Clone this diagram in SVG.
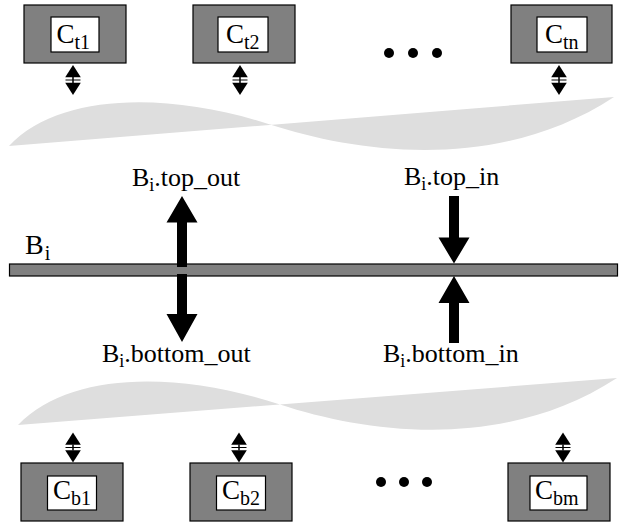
<svg xmlns="http://www.w3.org/2000/svg" width="620" height="522" viewBox="0 0 620 522">
<style>
.outer{fill:#808080;stroke:#000;stroke-width:1.2}
.inner{fill:#fff;stroke:#000;stroke-width:1.2}
.wave{fill:#dedede}
.lbl{font-family:"Liberation Serif","Times New Roman",serif;fill:#000}
.c{font-size:27px}
.b{font-size:26px}
.bb{font-size:28px}
.sub{font-size:20px}
.bsub{font-size:18px}
.blk{fill:#000}
</style>
<defs>
<g id="dbl">
<polygon points="0,-15 7.8,-2.7 -7.8,-2.7" fill="#000"/>
<polygon points="0,15 7.8,2.7 -7.8,2.7" fill="#000"/>
<line x1="-7.5" y1="0" x2="7.5" y2="0" stroke="#000" stroke-width="1"/>
<line x1="0" y1="-3" x2="0" y2="3" stroke="#000" stroke-width="1.5"/>
</g>
</defs>
<rect width="620" height="522" fill="#fff"/>

<g id="waves">
<path class="wave" d="M9,146 C60,92 170,92 270,124.5 C360,153.75 500,172 614,97 Z"/>
<path class="wave" d="M18,425 C70,371 178,371 280,404.4 C370,433.9 505,451 617,378 Z"/>
</g>

<g id="bus">
<rect x="9.5" y="264" width="608" height="12" fill="#808080" stroke="#000" stroke-width="1.2"/>
<text class="lbl bb" x="25" y="254">B<tspan class="sub" dx="1" dy="6">i</tspan></text>
</g>

<g id="ct1">
<rect class="outer" x="24" y="5" width="102" height="58"/>
<rect class="inner" x="51" y="17" width="48" height="35"/>
<text class="lbl c" x="56.5" y="43">C<tspan class="sub" dy="6">t1</tspan></text>
</g>
<g id="ct2">
<rect class="outer" x="193" y="5" width="102" height="58"/>
<rect class="inner" x="218" y="17" width="50" height="35"/>
<text class="lbl c" x="226" y="43">C<tspan class="sub" dy="6">t2</tspan></text>
</g>
<g id="ctn">
<rect class="outer" x="511" y="5" width="101" height="58"/>
<rect class="inner" x="537" y="17" width="50" height="35"/>
<text class="lbl c" x="545" y="43">C<tspan class="sub" dy="6">tn</tspan></text>
</g>
<g id="dots-top">
<circle class="blk" cx="389" cy="53" r="5"/>
<circle class="blk" cx="413" cy="53" r="5"/>
<circle class="blk" cx="437" cy="53" r="5"/>
</g>

<g id="cb1">
<rect class="outer" x="21" y="463" width="102" height="58"/>
<rect class="inner" x="47.5" y="476" width="49" height="34"/>
<text class="lbl c" x="53" y="498.5">C<tspan class="sub" dy="6">b1</tspan></text>
</g>
<g id="cb2">
<rect class="outer" x="190" y="463" width="102" height="58"/>
<rect class="inner" x="216.5" y="476" width="49" height="34"/>
<text class="lbl c" x="222" y="498.5">C<tspan class="sub" dy="6">b2</tspan></text>
</g>
<g id="cbm">
<rect class="outer" x="508" y="463" width="102" height="58"/>
<rect class="inner" x="530" y="476" width="57" height="34"/>
<text class="lbl c" x="535" y="498.5">C<tspan class="sub" dy="6">bm</tspan></text>
</g>
<g id="dots-bottom">
<circle class="blk" cx="381" cy="482" r="5"/>
<circle class="blk" cx="404" cy="482" r="5"/>
<circle class="blk" cx="427" cy="482" r="5"/>
</g>

<g id="connectors">
<use href="#dbl" x="73" y="80"/>
<use href="#dbl" x="240" y="80"/>
<use href="#dbl" x="559" y="80"/>
<use href="#dbl" x="73" y="447.5"/>
<use href="#dbl" x="239" y="447.5"/>
<use href="#dbl" x="563" y="447.5"/>
<polygon class="blk" points="177,267 187,267 187,222.5 197.5,222.5 182,196 166.5,222.5 177,222.5"/>
<polygon class="blk" points="177,274 187,274 187,314 197.5,314 182,342 166.5,314 177,314"/>
<polygon class="blk" points="449,196 459,196 459,237.5 469.5,237.5 454,263.5 438.5,237.5 449,237.5"/>
<polygon class="blk" points="449,343 459,343 459,303 469.5,303 454,276 438.5,303 449,303"/>
</g>

<g id="labels">
<text class="lbl b" x="132" y="186">B<tspan class="bsub" dy="5">i</tspan><tspan dy="-5">.top_out</tspan></text>
<text class="lbl b" x="404" y="185">B<tspan class="bsub" dy="5">i</tspan><tspan dy="-5">.top_in</tspan></text>
<text class="lbl b" x="102" y="362">B<tspan class="bsub" dy="5">i</tspan><tspan dy="-5">.bottom_out</tspan></text>
<text class="lbl b" x="383" y="362">B<tspan class="bsub" dy="5">i</tspan><tspan dy="-5">.bottom_in</tspan></text>
</g>
</svg>
